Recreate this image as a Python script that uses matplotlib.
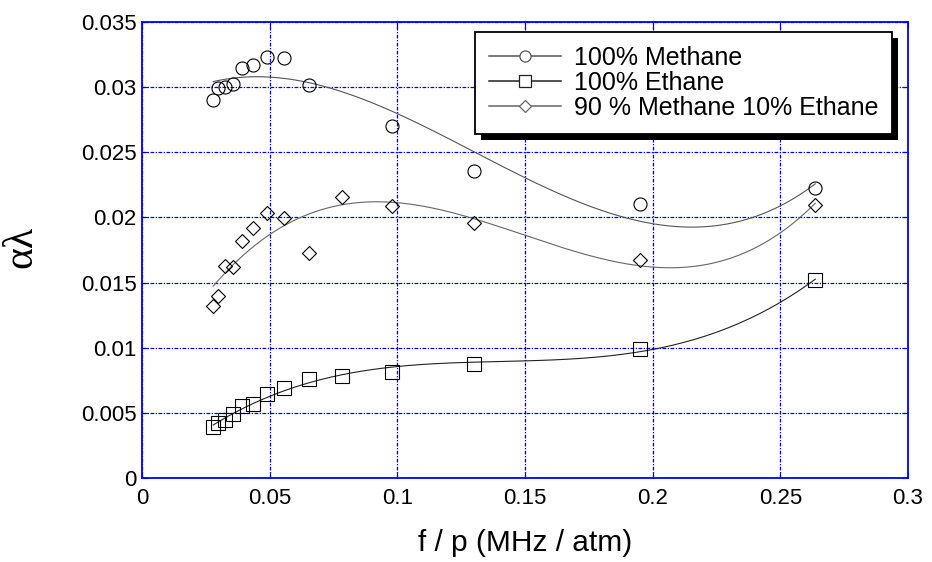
import numpy as np
import matplotlib.pyplot as plt
from matplotlib.patches import Rectangle
from matplotlib.transforms import IdentityTransform

# f/p sample points (MHz / atm) and measured alpha*lambda
methane_fp = [0.0279, 0.0299, 0.0325, 0.0357, 0.0392, 0.0436, 0.0488, 0.0556,
              0.0654, 0.0978, 0.1299, 0.1952, 0.2637]
methane_al = [0.0290, 0.02995, 0.03003, 0.03024, 0.03144, 0.0317, 0.03233, 0.0322,
              0.03016, 0.0270, 0.02357, 0.02104, 0.02224]

ethane_fp = [0.0279, 0.0299, 0.0325, 0.0357, 0.0392, 0.0436, 0.0488, 0.0556,
             0.0654, 0.0783, 0.0978, 0.1299, 0.1952, 0.2637]
ethane_al = [0.00391, 0.00422, 0.00447, 0.00493, 0.00554, 0.0057, 0.00644, 0.0069,
             0.00761, 0.00787, 0.00815, 0.00877, 0.00991, 0.01521]

mix_fp = [0.0279, 0.0299, 0.0325, 0.0357, 0.0392, 0.0436, 0.0488, 0.0556,
          0.0654, 0.0783, 0.0978, 0.1299, 0.1952, 0.2637]
mix_al = [0.01321, 0.0140, 0.01628, 0.01618, 0.0182, 0.01922, 0.02032, 0.01994,
          0.0173, 0.02155, 0.02088, 0.01958, 0.01673, 0.02096]

labels = ["100% Methane", "100% Ethane", "90 % Methane 10% Ethane"]
fit_degree = 3

series = [
    (methane_fp, methane_al, "o", 9.4, "#555555"),
    (ethane_fp, ethane_al, "s", 9.8, "#222222"),
    (mix_fp, mix_al, "D", 7.0, "#666666"),
]

plt.rcParams["font.family"] = ["Liberation Sans", "DejaVu Sans"]

fig = plt.figure(figsize=(9.32, 5.62), dpi=100)
ax = fig.add_axes([0.1524, 0.1489, 0.8218, 0.8125])

handles = []
for (fp, al, marker, ms, color), label in zip(series, labels):
    fp = np.asarray(fp)
    al = np.asarray(al)
    coeffs = np.polyfit(fp, al, fit_degree)
    xs = np.linspace(fp.min(), fp.max(), 300)
    ax.plot(xs, np.polyval(coeffs, xs), color=color, lw=0.8, zorder=3)
    ax.plot(fp, al, linestyle="none", marker=marker, ms=ms, mfc="none",
            mec="black", mew=0.8, zorder=4)
    # legend proxy: line with marker in the middle
    h, = ax.plot([], [], color=color, lw=1.1, marker=marker, ms=ms * 0.85,
                 mfc="white", mec=color, mew=0.9)
    handles.append(h)

ax.set_xlim(0, 0.3)
ax.set_ylim(0, 0.035)
ax.set_xticks(np.arange(0, 0.301, 0.05))
ax.set_yticks(np.arange(0, 0.0351, 0.005))
ax.set_xticklabels(["0", "0.05", "0.1", "0.15", "0.2", "0.25", "0.3"])
ax.set_yticklabels(["0", "0.005", "0.01", "0.015", "0.02", "0.025", "0.03", "0.035"])

ax.grid(True, color="#0000ff", linestyle=(0, (3, 1.2, 1, 1.2)), lw=0.9)
ax.set_axisbelow(True)
for sp in ax.spines.values():
    sp.set_color("#0000ff")
    sp.set_linewidth(1.3)
ax.tick_params(direction="in", length=4, color="#0000ff", top=True, right=True,
               labelsize=16, labelcolor="black")
ax.tick_params(axis="y", pad=4)
ax.tick_params(axis="x", pad=7)

ax.set_xlabel("f / p (MHz / atm)", fontsize=21.5)
ax.xaxis.set_label_coords(0.5, -0.1417)
ax.xaxis.label.set_verticalalignment("center")

ax.set_ylabel("\u03b1\u03bb", fontsize=30, family=["Liberation Serif", "DejaVu Serif"])
ax.yaxis.set_label_coords(-0.1573, 0.507)
ax.yaxis.label.set_verticalalignment("center")

leg = ax.legend(handles, labels, loc="upper right", bbox_to_anchor=(0.979, 0.9775),
                borderaxespad=0, fontsize=18, frameon=True, fancybox=False,
                edgecolor="black", framealpha=1, handlelength=2.9,
                handletextpad=0.5, labelspacing=0.05, borderpad=0.55)
leg.get_frame().set_linewidth(1.3)
leg.set_zorder(6)

# solid black drop shadow under the legend box
fig.canvas.draw()
bb = leg.get_window_extent()
shadow = Rectangle((bb.x0 + 6, bb.y0 - 6), bb.width, bb.height,
                   transform=IdentityTransform(), facecolor="black",
                   edgecolor="none", zorder=5.9, clip_on=False)
ax.add_patch(shadow)

fig.savefig("out.png", dpi=100)
